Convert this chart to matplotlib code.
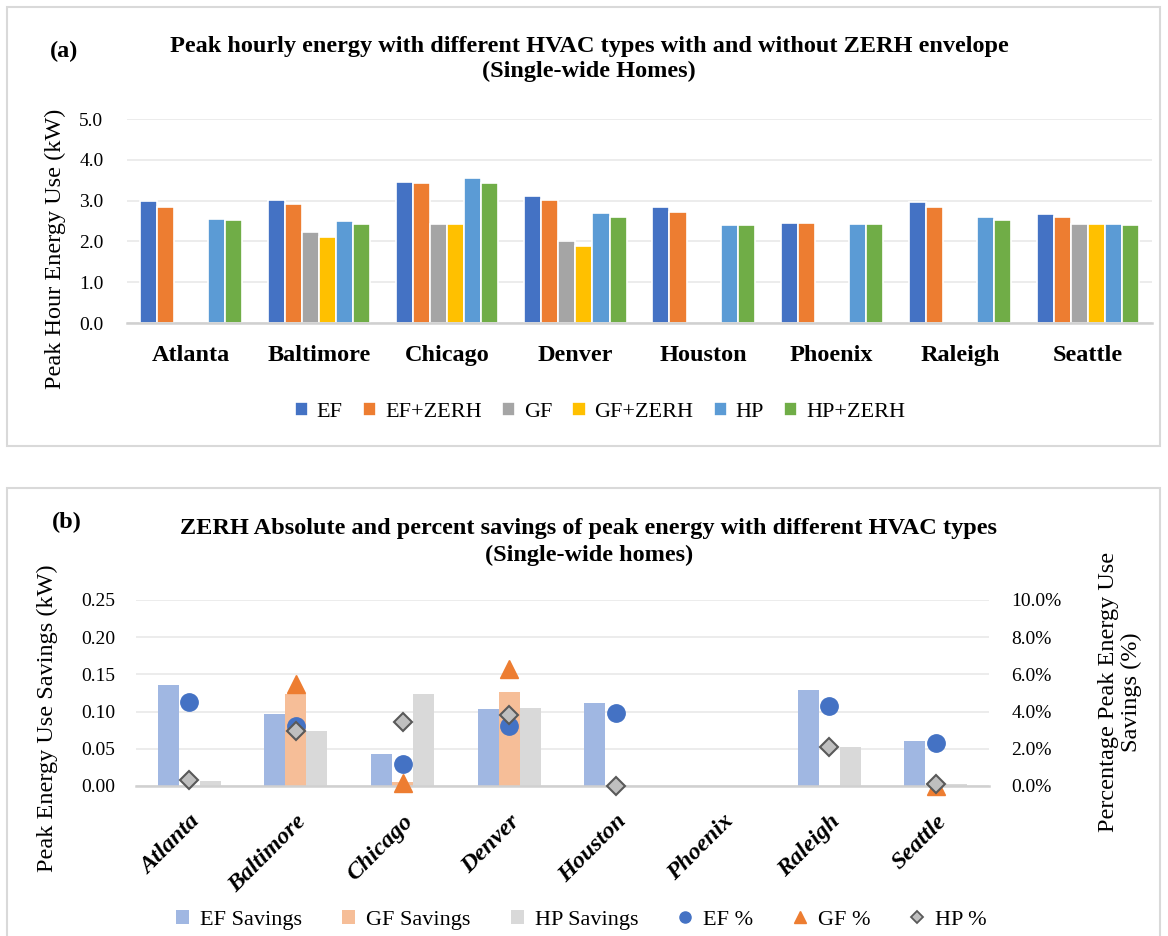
import numpy as np
import matplotlib
matplotlib.use("Agg")
import matplotlib.pyplot as plt
from matplotlib.lines import Line2D
from matplotlib.patches import Rectangle
from matplotlib.transforms import ScaledTranslation

plt.rcParams['font.family'] = ['Liberation Serif', 'DejaVu Serif']

# ---- data ----
cities = ['Atlanta', 'Baltimore', 'Chicago', 'Denver', 'Houston', 'Phoenix', 'Raleigh', 'Seattle']
nan = np.nan

# (a) peak hourly energy (kW)
ef      = [2.98, 3.01, 3.46, 3.12, 2.84, 2.45, 2.96, 2.67]
ef_zerh = [2.84, 2.92, 3.44, 3.01, 2.73, 2.45, 2.84, 2.61]
gf      = [nan, 2.22, 2.42, 2.02, nan, nan, nan, 2.42]
gf_zerh = [nan, 2.11, 2.42, 1.88, nan, nan, nan, 2.42]
hp      = [2.56, 2.50, 3.55, 2.70, 2.39, 2.42, 2.59, 2.42]
hp_zerh = [2.53, 2.42, 3.44, 2.59, 2.39, 2.42, 2.53, 2.39]

# (b) savings (kW) and percent savings (%)
ef_sav = [0.136, 0.0965, 0.043, 0.103, 0.112, 0.0, 0.129, 0.061]
gf_sav = [0.0, 0.123, 0.006, 0.126, 0.0, 0.0, 0.0, 0.0]
hp_sav = [0.007, 0.074, 0.123, 0.105, 0.0, 0.0, 0.053, 0.003]
ef_pct = [4.5, 3.2, 1.2, 3.2, 3.95, nan, 4.3, 2.3]
gf_pct = [nan, 5.5, 0.15, 6.3, nan, nan, nan, 0.0]
hp_pct = [0.3, 2.95, 3.45, 3.8, 0.0, nan, 2.1, 0.1]

W, H = 1168, 936
fig = plt.figure(figsize=(W / 100, H / 100), dpi=100)

def fx(px):
    return px / W

def fy(py):
    return 1 - py / H

# panel frames
fig.patches.append(Rectangle((fx(7), fy(446)), fx(1160 - 7), (446 - 7) / H,
                             transform=fig.transFigure, fill=False,
                             edgecolor='#d9d9d9', linewidth=1.5))
fig.patches.append(Rectangle((fx(7), fy(940)), fx(1160 - 7), (940 - 488) / H,
                             transform=fig.transFigure, fill=False,
                             edgecolor='#d9d9d9', linewidth=1.5))

grid_c = '#ebebeb'

def style(ax):
    for s in ['top', 'left', 'right']:
        ax.spines[s].set_visible(False)
    ax.spines['bottom'].set_color('#d0d0d0')
    ax.spines['bottom'].set_linewidth(1.8)
    ax.yaxis.grid(True, color=grid_c, linewidth=1.3)
    ax.set_axisbelow(True)
    ax.tick_params(length=0)

# ---- (a) ----
ax1 = fig.add_axes([fx(127), fy(323), fx(1152 - 127), (323 - 119) / H])
x = np.arange(len(cities))
bw = 0.133
series_a = [('EF', ef, '#4472c4'), ('EF+ZERH', ef_zerh, '#ed7d31'),
            ('GF', gf, '#a5a5a5'), ('GF+ZERH', gf_zerh, '#ffc000'),
            ('HP', hp, '#5b9bd5'), ('HP+ZERH', hp_zerh, '#70ad47')]
for i, (name, vals, c) in enumerate(series_a):
    ax1.bar(x + (i - 2.5) * bw, vals, bw, color=c, edgecolor='white',
            linewidth=1.2, label=name)
ax1.set_xlim(-0.5, len(cities) - 0.5)
ax1.set_ylim(0, 5)
ax1.set_yticks(np.arange(0, 5.01, 1.0))
ax1.set_yticklabels(['%.1f' % v for v in np.arange(0, 5.01, 1.0)], fontsize=14)
ax1.set_xticks(x)
ax1.set_xticklabels(cities, fontsize=17.5, fontweight='bold')
style(ax1)
ax1.tick_params(axis='x', pad=16)
ax1.tick_params(axis='y', pad=17)
ax1.legend(loc='center', bbox_to_anchor=(fx(600), fy(412)),
           bbox_transform=fig.transFigure, ncol=6, frameon=False, fontsize=16,
           handlelength=0.6, handleheight=0.6, handletextpad=0.4,
           columnspacing=0.9)

fig.text(fx(50), fy(51), '(a)', fontsize=17.5, fontweight='bold', va='center')
fig.text(fx(589), fy(59),
         'Peak hourly energy with different HVAC types with and without ZERH envelope\n'
         '(Single-wide Homes)',
         ha='center', va='center', fontsize=17.5, fontweight='bold', linespacing=1.25)
fig.text(fx(55), fy(249), 'Peak Hour Energy Use (kW)', rotation=90,
         ha='center', va='center', fontsize=17.5)

# ---- (b) ----
ax2 = fig.add_axes([fx(136), fy(786), fx(989 - 136), (786 - 600) / H])
bw2 = 0.197
ax2.bar(x - bw2, ef_sav, bw2, color='#a0b7e2', label='EF Savings')
ax2.bar(x, gf_sav, bw2, color='#f6be98', label='GF Savings')
ax2.bar(x + bw2, hp_sav, bw2, color='#d9d9d9', label='HP Savings')
ax2.set_xlim(-0.5, len(cities) - 0.5)
ax2.set_ylim(0, 0.25)
ax2.set_yticks(np.arange(0, 0.251, 0.05))
ax2.set_yticklabels(['%.2f' % v for v in np.arange(0, 0.251, 0.05)], fontsize=14)
ax2.set_xticks(x)
ax2.set_xticklabels(cities, fontsize=17.5, fontweight='bold', fontstyle='italic',
                    rotation=45, ha='right', rotation_mode='anchor')
off = ScaledTranslation(7 / 100, 0, fig.dpi_scale_trans)
for lab in ax2.get_xticklabels():
    lab.set_transform(lab.get_transform() + off)
style(ax2)
ax2.tick_params(axis='x', pad=18)
ax2.tick_params(axis='y', pad=15)

ax3 = ax2.twinx()
ax3.plot(x, ef_pct, 'o', color='#4472c4', markersize=12.5, linestyle='none', label='EF %')
ax3.plot(x, gf_pct, '^', color='#ed7d31', markersize=12.5, linestyle='none', label='GF %')
ax3.plot(x, hp_pct, 'D', color='#bfbfbf', markeredgecolor='#595959',
         markeredgewidth=1.5, markersize=9, linestyle='none', label='HP %')
ax3.set_ylim(0, 10)
ax3.set_yticks(np.arange(0, 10.01, 2))
ax3.set_yticklabels(['%.1f%%' % v for v in np.arange(0, 10.01, 2)], fontsize=14)
for s in ['top', 'left', 'right', 'bottom']:
    ax3.spines[s].set_visible(False)
ax3.tick_params(length=0, pad=16)
for ln in ax3.lines:
    ln.set_clip_on(False)

h2, l2 = ax2.get_legend_handles_labels()
h3 = [Line2D([], [], marker='o', color='#4472c4', linestyle='none', markersize=8),
      Line2D([], [], marker='^', color='#ed7d31', linestyle='none', markersize=8),
      Line2D([], [], marker='D', color='#bfbfbf', markeredgecolor='#595959',
             markeredgewidth=1.3, linestyle='none', markersize=6.5)]
l3 = ['EF %', 'GF %', 'HP %']
ax3.legend(h2 + h3, l2 + l3, loc='center', bbox_to_anchor=(fx(581), fy(920)),
           bbox_transform=fig.transFigure, ncol=6, frameon=False, fontsize=16,
           handlelength=0.6, handleheight=0.6, handletextpad=0.5,
           columnspacing=1.8)

fig.text(fx(52), fy(522), '(b)', fontsize=17.5, fontweight='bold', va='center')
fig.text(fx(589), fy(542),
         'ZERH Absolute and percent savings of peak energy with different HVAC types\n'
         '(Single-wide homes)',
         ha='center', va='center', fontsize=17.5, fontweight='bold', linespacing=1.3)
fig.text(fx(47), fy(718), 'Peak Energy Use Savings (kW)', rotation=90,
         ha='center', va='center', fontsize=17.5)
fig.text(fx(1120), fy(692), 'Percentage Peak Energy Use\nSavings (%)', rotation=90,
         ha='center', va='center', fontsize=17.5, linespacing=1.1)

fig.savefig('out.png', dpi=100)
